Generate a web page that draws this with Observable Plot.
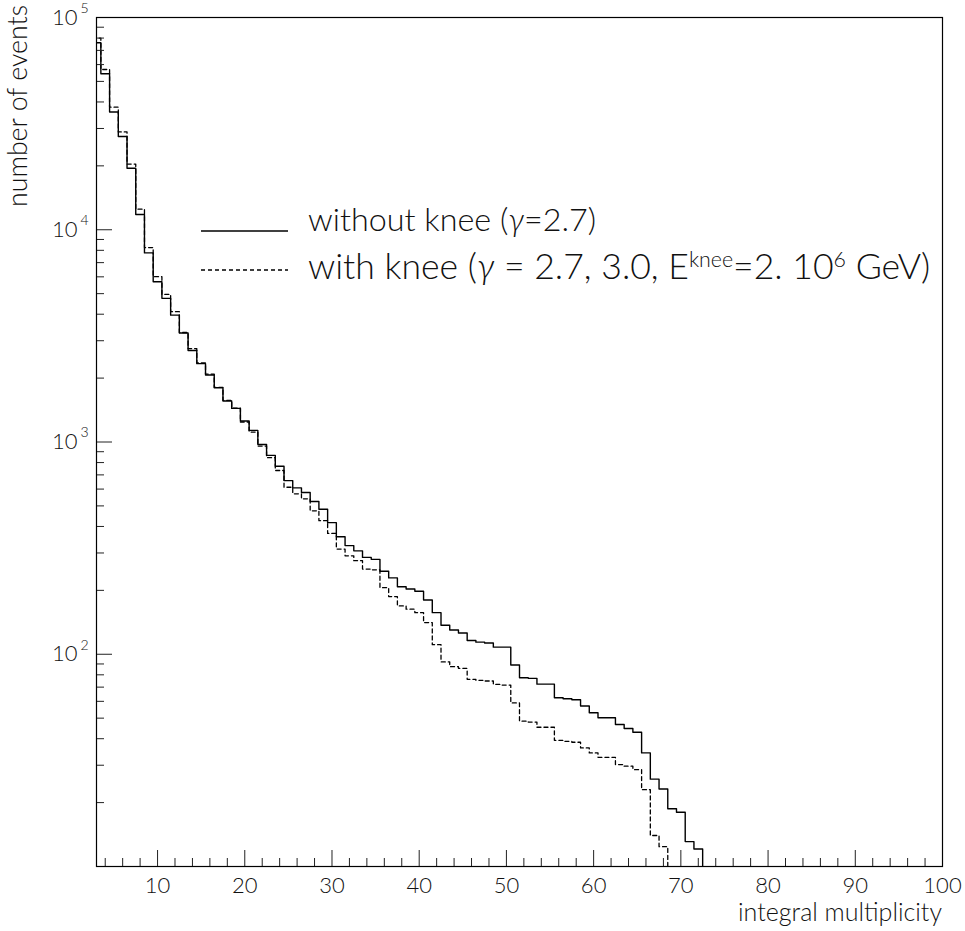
<!DOCTYPE html>
<html><head><meta charset="utf-8">
<script src="https://cdn.jsdelivr.net/npm/d3@7"></script>
<script src="https://cdn.jsdelivr.net/npm/@observablehq/plot@0.6"></script>
<style>
body{margin:0;background:#fff;}
#chart{width:965px;height:931px;}
text{font-family:Lato, "Liberation Sans", sans-serif;}
</style></head><body><div id="chart"></div>
<script>
// ---- data ----
const multiplicity = [3,4,5,6,7,8,9,10,11,12,13,14,15,16,17,18,19,20,21,22,23,24,25,26,27,28,29,30,31,32,33,34,35,36,37,38,39,40,41,42,43,44,45,46,47,48,49,50,51,52,53,54,55,56,57,58,59,60,61,62,63,64,65,66,67,68,69,70,71,72];
const withoutKnee = [76000,54300,35900,27500,19500,11800,7780,5690,4750,3960,3260,2700,2340,2070,1800,1560,1440,1256,1134,974,865,769,658,608,578,524,482,417,358,325,307,286,280,246,229,208,203,198,180,157,137,130,126,116,114,113,108,108,89,77.5,77,72.3,72.3,62.4,61.7,61,57,53,50.2,50.2,46.7,44.7,42.9,34.3,25.8,23.2,18.7,18,13.1,12.1];
const multiplicityKnee = [3,4,5,6,7,8,9,10,11,12,13,14,15,16,17,18,19,20,21,22,23,24,25,26,27,28,29,30,31,32,33,34,35,36,37,38,39,40,41,42,43,44,45,46,47,48,49,50,51,52,53,54,55,56,57,58,59,60,61,62,63,64,65,66,67,68];
const withKnee = [80000,56900,37800,28900,20400,12500,8240,6010,4960,4110,3280,2755,2360,2090,1810,1570,1445,1242,1114,957,844,734,612,570,540,474,426,371,313,291,276,252,250,206,187,169,163,157,141,111,92,87.4,85.8,76.2,75.4,74.8,72.1,71.6,59,48.4,47.9,45.3,45.3,39.3,38.9,38.5,36.2,34.3,32.7,32.7,30.2,29.7,28.6,23,14,12.4];

const xMajorTicks = [10,20,30,40,50,60,70,80,90,100];
const xMinorTicks = [4,6,8,12,14,16,18,22,24,26,28,32,34,36,38,42,44,46,48,52,54,56,58,62,64,66,68,72,74,76,78,82,84,86,88,92,94,96,98];
const yMajorTicks = [10,100,1000,10000,100000];
const yMinorTicks = [20,30,40,50,60,70,80,90,200,300,400,500,600,700,800,900,2000,3000,4000,5000,6000,7000,8000,9000,20000,30000,40000,50000,60000,70000,80000,90000];
const yLabelTicks = [100,1000,10000,100000];
const yLabelExponents = ["2","3","4","5"];

// histogram outline: bins of width 1 centred on each multiplicity
function outline(ms, vs) {
  const pts = ms.map((m, i) => ({x: m - 0.5, y: vs[i]}));
  pts.push({x: ms[ms.length - 1] + 0.5, y: 1});
  return pts;
}
const solidPts = outline(multiplicity, withoutKnee);
const dashedPts = outline(multiplicityKnee, withKnee);

const FONT = "Lato";
const plot = Plot.plot({
  width: 965, height: 931,
  marginLeft: 96, marginRight: 23, marginTop: 17, marginBottom: 65,
  style: {fontFamily: FONT, fontSize: "21px", color: "#000", background: "#fff", overflow: "visible"},
  x: {type: "linear", domain: [3, 100]},
  y: {type: "log", domain: [10, 100000]},
  marks: [
    Plot.line(solidPts, {x: "x", y: "y", curve: "step-after", stroke: "#000", strokeWidth: 1.4, clip: true}),
    Plot.line(dashedPts, {x: "x", y: "y", curve: "step-after", stroke: "#000", strokeWidth: 1.3, strokeDasharray: "4,3", clip: true}),
    Plot.axisX({ticks: xMajorTicks, tickSize: -16, tickFormat: () => "", label: null, stroke: "#222"}),
    Plot.axisX({ticks: xMinorTicks, tickSize: -8, tickFormat: () => "", label: null, stroke: "#222"}),
    Plot.axisX({ticks: xMajorTicks, tickSize: 0, tickPadding: 11, tickFormat: d3.format("d"), label: null, fontSize: 22, fill: "#111", fontWeight: 300}),
    Plot.axisY({ticks: yMajorTicks, tickSize: -16, tickFormat: () => "", label: null, stroke: "#222"}),
    Plot.axisY({ticks: yMinorTicks, tickSize: -8, tickFormat: () => "", label: null, stroke: "#222"}),
    Plot.text(yLabelTicks, {y: d => d, frameAnchor: "left", text: () => "10", textAnchor: "end", dx: -19, fontSize: 22, fill: "#111", fontWeight: 300}),
    Plot.text(yLabelTicks, {y: d => d, frameAnchor: "left", text: (d, i) => yLabelExponents[i], textAnchor: "start", dx: -16, dy: -9, fontSize: 14, fill: "#111", fontWeight: 300}),
    Plot.frame({stroke: "#000", strokeWidth: 1.2})
  ]
});
document.getElementById("chart").appendChild(plot);

// ---- titles and legend ----
const svg = d3.select(plot);
function fit(sel, target) {
  const node = sel.node();
  let fs = parseFloat(sel.attr("font-size"));
  for (let k = 0; k < 4; k++) {
    const w = node.getComputedTextLength();
    if (w > 0) { fs = fs * target / w; sel.attr("font-size", fs); }
  }
}
const g = svg.append("g").attr("fill", "#111").attr("font-family", FONT).attr("font-weight", 300).attr("text-anchor", "start");

const xt = g.append("text").attr("x", 942).attr("y", 921).attr("text-anchor", "end").attr("font-size", 20).text("integral multiplicity");
fit(xt, 204);
const yt = g.append("text").attr("transform", "translate(27,5) rotate(-90)").attr("text-anchor", "end").attr("font-size", 20).text("number of events");
fit(yt, 202);

g.append("line").attr("x1", 201).attr("x2", 288).attr("y1", 231).attr("y2", 231).attr("stroke", "#000").attr("stroke-width", 1.3);
g.append("line").attr("x1", 201).attr("x2", 288).attr("y1", 270).attr("y2", 270).attr("stroke", "#000").attr("stroke-width", 1.3).attr("stroke-dasharray", "4,3");

const l1 = g.append("text").attr("x", 308).attr("y", 231).attr("text-anchor", "start").attr("font-size", 26);
l1.append("tspan").text("without knee (");
l1.append("tspan").attr("font-style", "italic").text("γ");
l1.append("tspan").text("=2.7)");
fit(l1, 288);

const l2 = g.append("text").attr("x", 308).attr("y", 279).attr("text-anchor", "start").attr("font-size", 26);
l2.append("tspan").text("with knee (");
l2.append("tspan").attr("font-style", "italic").text("γ");
l2.append("tspan").text(" = 2.7, 3.0, E");
l2.append("tspan").attr("font-size", "0.6em").attr("dy", "-0.55em").text("knee");
l2.append("tspan").attr("dy", "0.33em").text("=2. 10");
l2.append("tspan").attr("font-size", "0.6em").attr("dy", "-0.55em").text("6");
l2.append("tspan").attr("dy", "0.33em").text(" GeV)");
fit(l2, 622);
</script>
</body></html>
